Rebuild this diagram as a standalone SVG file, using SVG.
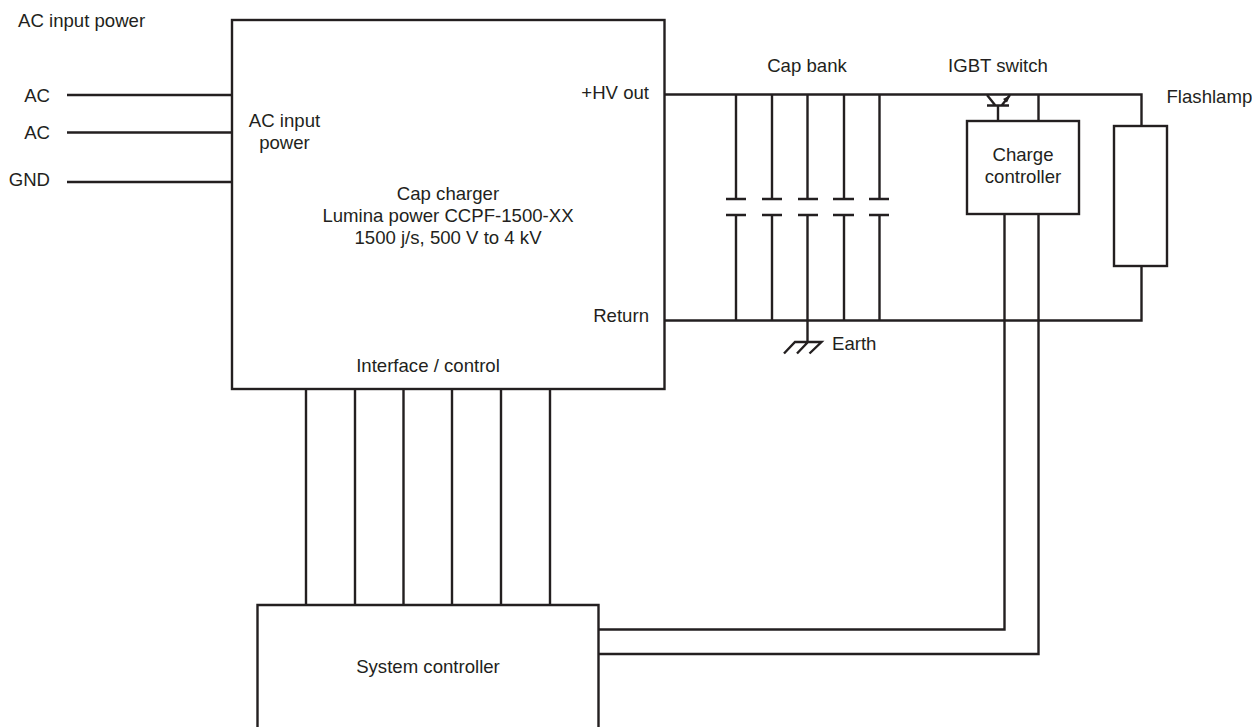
<svg xmlns="http://www.w3.org/2000/svg" width="1252" height="727" viewBox="0 0 1252 727">
<style>
text{font-family:"Liberation Sans",Arial,sans-serif;font-size:18.6px;fill:#231f20}
.m{text-anchor:middle}.e{text-anchor:end}
.b{fill:#fff;stroke:#231f20;stroke-width:2.4}
.l{fill:none;stroke:#231f20;stroke-width:2.4}
</style>
<rect width="1252" height="727" fill="#fff"/>
<g id="connectors" class="l">
<path d="M67 95H232M67 132.500H232M67 182H232"/>
<path d="M664 94.500H1141.500V126M664 320.500H1141.500V266"/>
<path d="M736 95V199M772 95V199M807.500 95V199M844 95V199M879.500 95V199"/>
<path d="M736 215V320M772 215V320M807.500 215V320M844 215V320M879.500 215V320"/>
<path d="M726 199H746M762 199H782M798 199H818M833 199H854M869 199H889"/>
<path d="M726 215H746M762 215H782M798 215H818M833 215H854M869 215H889"/>
<path d="M807.500 320V342M784 353.500L795 342H821.500L809.500 353.500M797 353.500L808 342"/>
<path d="M987 95L995 105M1010 95L1002 105M987 105.500H1009M998 105V121M1038.500 95V121"/>
<path d="M306 389V605M355 389V605M403.500 389V605M452 389V605M501 389V605M550 389V605"/>
<path d="M1004.500 214V629.500H598M1038.500 214V654H598"/>
<polygon points="1010.500,95 1003,99 1007,102.500" fill="#231f20" stroke="none"/>
</g>
<g id="ac-labels">
<text x="18" y="27">AC input power</text>
<text x="50" y="102" class="e">AC</text>
<text x="50" y="139" class="e">AC</text>
<text x="50" y="186" class="e">GND</text>
</g>
<g id="cap-charger">
<rect x="232" y="20" width="432.500" height="369" class="b"/>
<text x="284.500" y="127" class="m">AC input</text>
<text x="284.500" y="149" class="m">power</text>
<text x="448" y="200" class="m">Cap charger</text>
<text x="448" y="222" class="m">Lumina power CCPF-1500-XX</text>
<text x="448" y="244" class="m">1500 j/s, 500 V to 4 kV</text>
<text x="649" y="99" class="e">+HV out</text>
<text x="649" y="322" class="e">Return</text>
<text x="428" y="372" class="m">Interface / control</text>
</g>
<g id="cap-bank"><text x="807" y="72" class="m">Cap bank</text></g>
<g id="earth"><text x="832" y="350">Earth</text></g>
<g id="igbt-switch"><text x="998" y="72" class="m">IGBT switch</text></g>
<g id="charge-controller">
<rect x="967" y="121" width="112" height="93" class="b"/>
<text x="1023" y="160.500" class="m">Charge</text>
<text x="1023" y="182.500" class="m">controller</text>
</g>
<g id="flashlamp">
<rect x="1114" y="126" width="53" height="140" class="b"/>
<text x="1166.500" y="102.500">Flashlamp</text>
</g>
<g id="system-controller">
<path d="M257.500 727V605H598.500V727" class="b"/>
<text x="428" y="673" class="m">System controller</text>
</g>
</svg>
